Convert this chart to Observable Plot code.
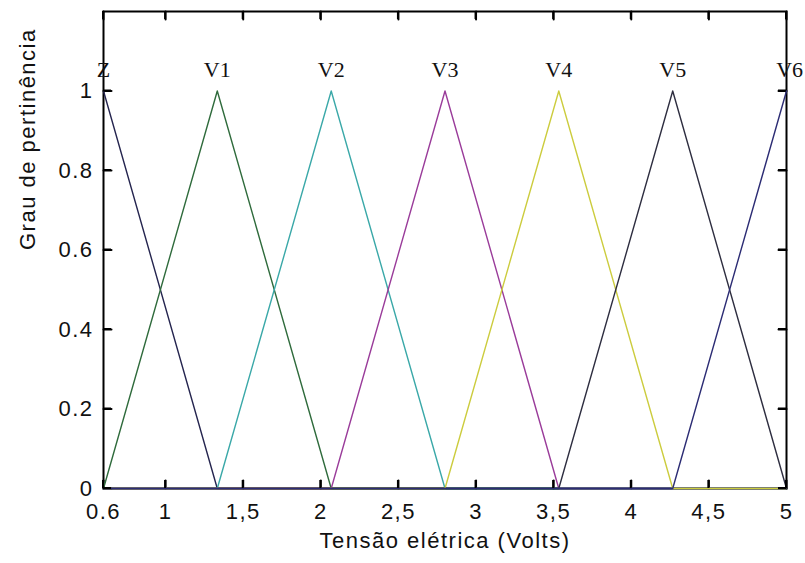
<!DOCTYPE html>
<html><head><meta charset="utf-8">
<script src="https://cdn.jsdelivr.net/npm/d3@7"></script>
<script src="https://cdn.jsdelivr.net/npm/@observablehq/plot@0.6"></script>
<style>body{margin:0;background:#fff}</style>
</head><body><div id="chart"></div>
<script>
// Membership functions (triangular)
const names = ["Z", "V1", "V2", "V3", "V4", "V5", "V6"];
const peaks = [0.6, 1.333, 2.067, 2.8, 3.533, 4.267, 5.0];
const colors = ["#25254f", "#2f6b3c", "#3aa8a8", "#9a3c9a", "#cccc3e", "#2e2e40", "#2c2c74"];
const xDomain = [0.6, 5];
const yDomain = [0, 1.2];
const xTicks = [0.6, 1, 1.5, 2, 2.5, 3, 3.5, 4, 4.5, 5];
const xTickLabels = ["0.6", "1", "1,5", "2", "2,5", "3", "3,5", "4", "4,5", "5"];
const yTicks = [0, 0.2, 0.4, 0.6, 0.8, 1];
const yTickLabels = ["0", "0.2", "0.4", "0.6", "0.8", "1"];
const labelX = [0.6, 1.333, 2.067, 2.8, 3.533, 4.267, 5.02];
const labelY = [1.035, 1.035, 1.035, 1.035, 1.035, 1.035, 1.035];
const xTitle = "Tensão elétrica (Volts)";
const yTitle = "Grau de pertinência";

// Build line points for each membership function
const pts = [];
names.forEach((name, i) => {
  const p = peaks[i];
  const left = i > 0 ? peaks[i - 1] : null;
  const right = i < peaks.length - 1 ? peaks[i + 1] : null;
  const seq = [];
  if (left !== null) { seq.push([xDomain[0], 0], [left, 0]); }
  seq.push([p, 1]);
  if (right !== null) { seq.push([right, 0], [xDomain[1], 0]); }
  seq.forEach(([x, y]) => pts.push({name, x, y}));
});
const labels = names.map((n, i) => ({name: n, x: labelX[i], y: labelY[i]}));
const xMap = new Map(xTicks.map((t, i) => [t, xTickLabels[i]]));
const yMap = new Map(yTicks.map((t, i) => [t, yTickLabels[i]]));

const W = 805, H = 563, mL = 103, mR = 19, mT = 11, mB = 75;
const plotW = W - mL - mR, plotH = H - mT - mB, tickLen = 8;
const tY = tickLen * (yDomain[1] - yDomain[0]) / plotH;
const tX = tickLen * (xDomain[1] - xDomain[0]) / plotW;
const tickSegs = [];
xTicks.forEach((t, i) => {
  tickSegs.push({id: "b" + i, x: t, y: yDomain[0]}, {id: "b" + i, x: t, y: yDomain[0] + tY});
  tickSegs.push({id: "t" + i, x: t, y: yDomain[1]}, {id: "t" + i, x: t, y: yDomain[1] - tY});
});
yTicks.forEach((t, i) => {
  tickSegs.push({id: "l" + i, x: xDomain[0], y: t}, {id: "l" + i, x: xDomain[0] + tX, y: t});
  tickSegs.push({id: "r" + i, x: xDomain[1], y: t}, {id: "r" + i, x: xDomain[1] - tX, y: t});
});
const sans = "'Liberation Sans', Arial, sans-serif";

const chart = Plot.plot({
  width: W, height: H,
  marginLeft: mL, marginRight: mR, marginTop: mT, marginBottom: mB,
  style: {fontFamily: sans, fontSize: "22px", color: "#111", background: "#fff", letterSpacing: "1.5px"},
  x: {domain: xDomain, axis: null},
  y: {domain: yDomain, axis: null},
  color: {domain: names, range: colors},
  marks: [
    Plot.frame({stroke: "black", strokeWidth: 2}),
    Plot.line(tickSegs, {x: "x", y: "y", z: "id", stroke: "black", strokeWidth: 2}),
    Plot.line(pts, {x: "x", y: "y", z: "name", stroke: "name", strokeWidth: 1.4}),
    Plot.text(labels, {x: "x", y: "y", text: "name", lineAnchor: "bottom", fontFamily: "'Liberation Serif', 'Times New Roman', serif", fontSize: 22, fill: "#111"}),
    Plot.axisX(xTicks, {anchor: "bottom", tickSize: 0, tickPadding: 15, tickFormat: d => xMap.get(d), label: null, fill: "#111"}),
    Plot.axisY(yTicks, {anchor: "left", tickSize: 0, tickPadding: 10, tickFormat: d => yMap.get(d), label: null, fill: "#111"}),
    Plot.text([xTitle], {frameAnchor: "bottom", dy: 52, lineAnchor: "middle", text: d => d, fontSize: 22, fill: "#111"}),
    Plot.text([yTitle], {frameAnchor: "left", dx: -76, rotate: -90, lineAnchor: "middle", text: d => d, fontSize: 22, fill: "#111"})
  ]
});
d3.select(chart).selectAll('g[font-family*="Serif"]').style("letter-spacing", "0px").selectAll("text").style("letter-spacing", "0px");

// Reinforce the inward ticks using the chart's own scales
const sx = chart.scale("x"), sy = chart.scale("y");
const g = d3.select(chart).append("g").attr("stroke", "black").attr("stroke-width", 2).attr("aria-label", "inward ticks");
const y0 = sy.apply(yDomain[0]), y1 = sy.apply(yDomain[1]);
const x0 = sx.apply(xDomain[0]), x1 = sx.apply(xDomain[1]);
xTicks.forEach(t => {
  const px = sx.apply(t);
  g.append("line").attr("x1", px).attr("x2", px).attr("y1", y0).attr("y2", y0 - tickLen);
  g.append("line").attr("x1", px).attr("x2", px).attr("y1", y1).attr("y2", y1 + tickLen);
});
yTicks.forEach(t => {
  const py = sy.apply(t);
  g.append("line").attr("y1", py).attr("y2", py).attr("x1", x0).attr("x2", x0 + tickLen);
  g.append("line").attr("y1", py).attr("y2", py).attr("x1", x1).attr("x2", x1 - tickLen);
});
document.getElementById("chart").appendChild(chart);
</script>
</body></html>
